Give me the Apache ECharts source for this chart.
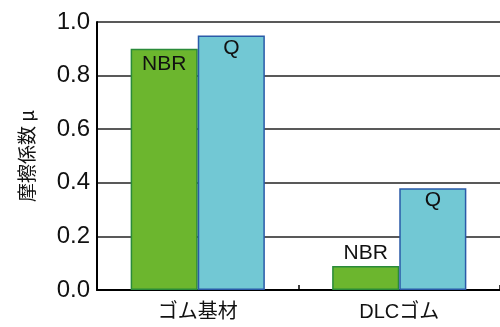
<!DOCTYPE html>
<html><head><meta charset="utf-8">
<script src="https://cdn.jsdelivr.net/npm/echarts@6/dist/echarts.min.js"></script>
<style>html,body{margin:0;padding:0;background:#fff}#c{width:500px;height:327px}</style>
</head><body><div id="c"></div>
<script>
const categories = ['ゴム基材', 'DLCゴム'];
const nbrValues = [0.90, 0.09];
const qValues = [0.95, 0.38];
const yTicks = [0, 0.2, 0.4, 0.6, 0.8, 1.0];
const seriesNames = ['NBR', 'Q'];
const axisName = '摩擦係数 μ';

const latin = 'Liberation Sans, Arial, Helvetica, sans-serif';
const mixed = '"Liberation Sans", "Noto Sans CJK JP", sans-serif';
const cjk = '"Noto Sans CJK JP", sans-serif';
const chart = echarts.init(document.getElementById('c'));
chart.setOption({
  animation: false,
  grid: { left: 97, right: -3, top: 22, bottom: 37 },
  xAxis: {
    type: 'category', data: categories,
    axisLine: { lineStyle: { color: '#000', width: 2 } },
    axisTick: { show: true, inside: true, length: 5, lineStyle: { color: '#000', width: 1.5 } },
    axisLabel: { color: '#111', fontSize: 20, fontFamily: mixed, margin: 12 }
  },
  yAxis: {
    type: 'value', min: yTicks[0], max: yTicks[yTicks.length - 1], interval: 0.2,
    name: axisName, nameLocation: 'middle', nameRotate: 90, nameGap: 61,
    nameTextStyle: { color: '#111', fontSize: 19, fontFamily: cjk },
    axisLine: { show: true, lineStyle: { color: '#000', width: 2 } },
    axisTick: { show: false },
    axisLabel: { color: '#111', fontSize: 24, fontFamily: latin, margin: 7,
      formatter: v => v.toFixed(1) },
    splitLine: { lineStyle: { color: '#222', width: 1.5 } }
  },
  series: [
    {
      name: seriesNames[0], type: 'bar', barWidth: '33.3%', barGap: '0%',
      data: nbrValues.map((v, i) => ({ value: v,
        label: { position: v < 0.2 ? 'top' : 'insideTop', distance: v < 0.2 ? 2 : 5 } })),
      itemStyle: { color: '#6cb62e', borderColor: '#2a8a3a', borderWidth: 1.5 },
      label: { show: true, formatter: seriesNames[0], color: '#111', fontSize: 21, fontFamily: latin }
    },
    {
      name: seriesNames[1], type: 'bar', barWidth: '33.3%', barGap: '0%',
      data: qValues,
      itemStyle: { color: '#72c8d4', borderColor: '#2a5aa8', borderWidth: 1.5 },
      label: { show: true, position: 'insideTop', distance: 2, formatter: seriesNames[1], color: '#111', fontSize: 21, fontFamily: latin }
    }
  ]
});
</script></body></html>
